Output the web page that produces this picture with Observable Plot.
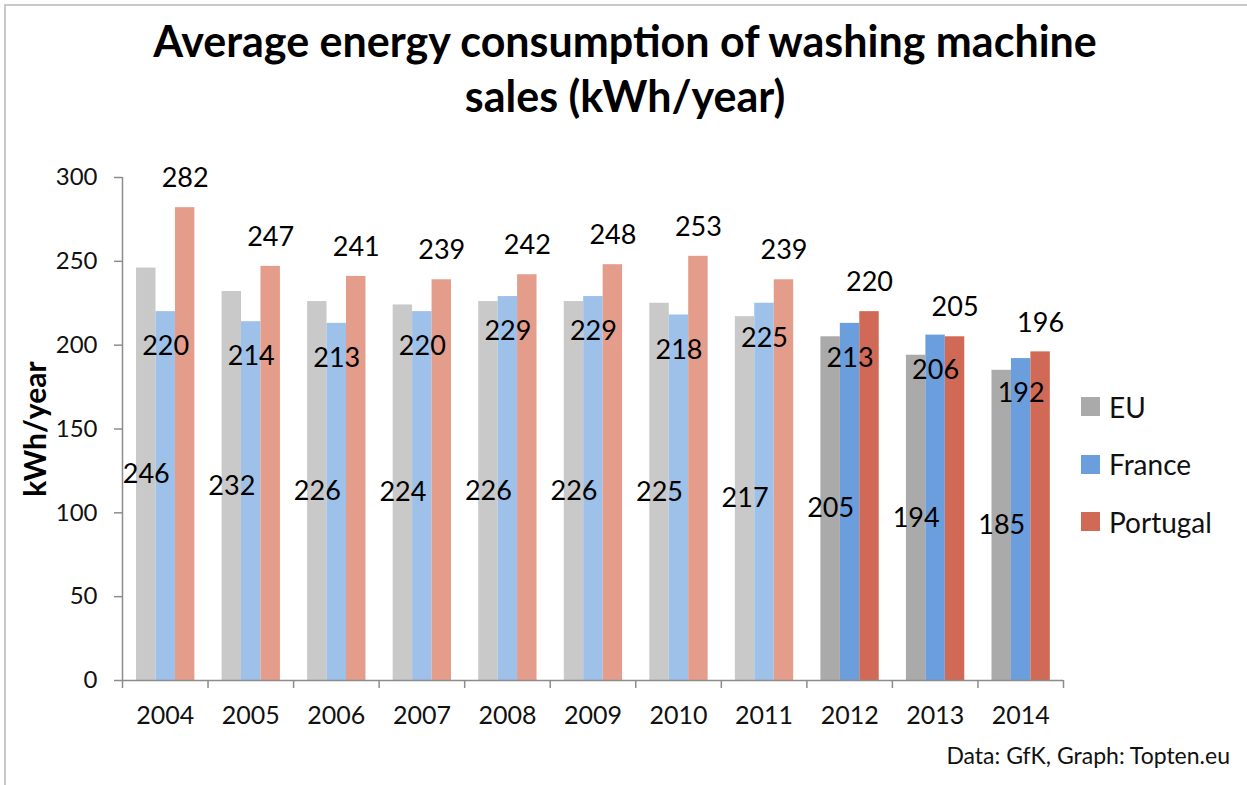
<!DOCTYPE html>
<html>
<head>
<meta charset="utf-8">
<script src="https://cdn.jsdelivr.net/npm/d3@7"></script>
<script src="https://cdn.jsdelivr.net/npm/@observablehq/plot@0.6"></script>
<style>
  body { margin: 0; background: #fff; font-family: Lato, "Noto Sans", sans-serif; }
  #wrap { position: relative; width: 1247px; height: 785px; overflow: hidden; background: #fff; }
  #frame { position: absolute; left: 4px; top: 4px; width: 1400px; height: 1000px;
           border-left: 2px solid #c9c9c9; border-top: 2px solid #c9c9c9; }
  #chart { position: absolute; left: 0; top: 0; }
  #title { position: absolute; left: 0; top: 13px; width: 1250px; text-align: center;
           font-weight: 700; font-size: 43px; line-height: 55px; color: #000; }
  #legend { position: absolute; left: 1081px; top: 378px; }
  .row { display: flex; align-items: center; height: 57.5px; font-size: 28px; color: #111; }
  .sw { width: 19px; height: 19px; margin-right: 9px; }
  #caption { position: absolute; right: 17px; top: 741px; font-size: 23px; color: #111; }
</style>
</head>
<body>
<div id="wrap">
  <div id="frame"></div>
  <div id="chart"></div>
  <div id="title">Average energy consumption of washing machine<br>sales (kWh/year)</div>
  <div id="legend"></div>
  <div id="caption">Data: GfK, Graph: Topten.eu</div>
</div>
<script>
const years = [2004, 2005, 2006, 2007, 2008, 2009, 2010, 2011, 2012, 2013, 2014];
const seriesNames = ["EU", "France", "Portugal"];
const eu       = [246, 232, 226, 224, 226, 226, 225, 217, 205, 194, 185];
const france   = [220, 214, 213, 220, 229, 229, 218, 225, 213, 206, 192];
const portugal = [282, 247, 241, 239, 242, 248, 253, 239, 220, 205, 196];
const yTicks = [0, 50, 100, 150, 200, 250, 300];
const lastFadedYear = 2011;

const colorsStrong = {EU: "#aaaaaa", France: "#6a9edc", Portugal: "#d06a56"};
const colorsFaded  = {EU: "#c9c9c9", France: "#9dc1e9", Portugal: "#e49c8b"};

const seriesValues = {EU: eu, France: france, Portugal: portugal};
const groupOffset = 0.164, barW = 0.2273;

const rows = [];
years.forEach((year, i) => {
  seriesNames.forEach((s, k) => {
    const x1 = i + groupOffset + k * barW;
    rows.push({
      year, series: s, value: seriesValues[s][i],
      x1, x2: x1 + barW, xc: x1 + barW / 2,
      color: year <= lastFadedYear ? colorsFaded[s] : colorsStrong[s]
    });
  });
});

const axisGrey = "#8c8c8c";
const txt = "#111";

const chart = Plot.plot({
  width: 1247,
  height: 785,
  marginLeft: 122,
  marginRight: 184,
  marginTop: 177,
  marginBottom: 105,
  style: {fontFamily: "Lato, 'Noto Sans', sans-serif", background: "transparent"},
  x: {domain: [0, years.length]},
  y: {domain: [0, 300]},
  color: {type: "identity"},
  marks: [
    Plot.rectY(rows, {x1: "x1", x2: "x2", y: "value", fill: "color"}),
    Plot.ruleY([0], {stroke: axisGrey, strokeWidth: 1.5}),
    Plot.ruleX([0], {stroke: axisGrey, strokeWidth: 1.5}),
    Plot.axisY({ticks: yTicks, tickSize: 8, tickPadding: 17, fontSize: 24, stroke: axisGrey, fill: txt, strokeWidth: 1.5, label: null}),
    Plot.axisX({ticks: d3.range(years.length + 1), tickSize: 8, tickFormat: () => "", stroke: axisGrey, strokeWidth: 1.5, label: null}),
    Plot.axisX({ticks: years.map((y, i) => i + 0.5), tickSize: 0, tickPadding: 26, fontSize: 25, fill: txt,
                tickFormat: d => String(years[Math.floor(d)]), label: null}),
    Plot.text(rows.filter(d => d.series === "EU"), {x: "xc", y: d => d.value / 2, text: d => String(d.value), fontSize: 27, fill: "#000"}),
    Plot.text(rows.filter(d => d.series === "France"), {x: "xc", y: "value", dy: 35, text: d => String(d.value), fontSize: 27, fill: "#000"}),
    Plot.text(rows.filter(d => d.series === "Portugal"), {x: "xc", y: "value", dy: -29, text: d => String(d.value), fontSize: 27, fill: "#000"}),
    Plot.text(["kWh/year"], {frameAnchor: "left", dx: -86, rotate: -90, textAnchor: "middle", text: d => d, fontSize: 30, fontWeight: "bold", fill: "#000"})
  ]
});
document.getElementById("chart").appendChild(chart);

const legend = document.getElementById("legend");
seriesNames.forEach(s => {
  const row = document.createElement("div");
  row.className = "row";
  const sw = document.createElement("div");
  sw.className = "sw";
  sw.style.background = colorsStrong[s];
  const label = document.createElement("span");
  label.textContent = s;
  row.appendChild(sw);
  row.appendChild(label);
  legend.appendChild(row);
});
</script>
</body>
</html>
